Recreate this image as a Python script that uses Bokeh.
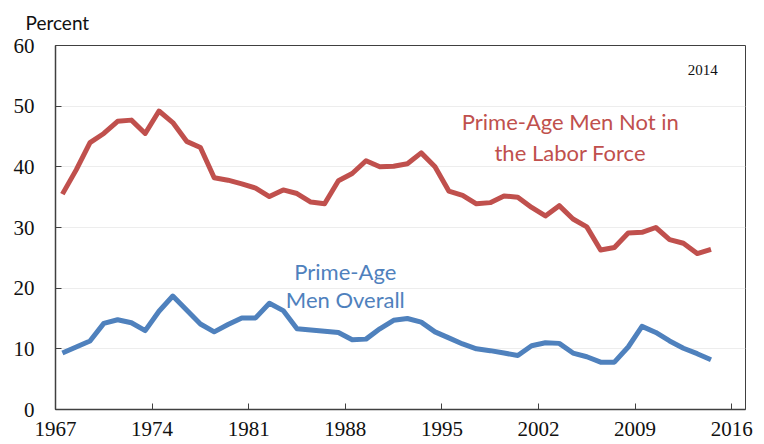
from bokeh.plotting import figure
from bokeh.models import Label, FixedTicker, Range1d
from bokeh.embed import file_html
from bokeh.resources import INLINE

years = list(range(1967, 2015))
not_in_labor_force = [35.5, 39.5, 44.0, 45.5, 47.5, 47.7, 45.5, 49.2, 47.3, 44.2,
                      43.2, 38.2, 37.8, 37.2, 36.5, 35.1, 36.2, 35.6, 34.2, 33.9,
                      37.7, 38.9, 41.0, 40.0, 40.1, 40.5, 42.3, 40.0, 36.0, 35.3,
                      33.9, 34.1, 35.2, 35.0, 33.3, 31.9, 33.6, 31.4, 30.1, 26.3,
                      26.7, 29.1, 29.2, 30.0, 28.0, 27.4, 25.7, 26.4]
men_overall = [9.3, 10.3, 11.3, 14.2, 14.8, 14.3, 13.0, 16.2, 18.7, 16.4,
               14.1, 12.8, 14.0, 15.1, 15.1, 17.5, 16.3, 13.3, 13.1, 12.9,
               12.7, 11.5, 11.6, 13.3, 14.7, 15.0, 14.4, 12.8, 11.8, 10.8,
               10.0, 9.7, 9.3, 8.9, 10.5, 11.0, 10.9, 9.3, 8.7, 7.8,
               7.8, 10.3, 13.7, 12.7, 11.3, 10.1, 9.2, 8.2]
x_ticks = [1967, 1974, 1981, 1988, 1995, 2002, 2009, 2016]
y_ticks = [0, 10, 20, 30, 40, 50, 60]

RED = "#C0504D"
BLUE = "#4F81BD"

# points sit in the middle of each year's slot
xs = [y + 0.5 for y in years]

p = figure(frame_width=690, frame_height=364, output_backend="svg",
           toolbar_location=None, x_range=Range1d(1967, 2017), y_range=Range1d(0, 60),
           min_border_left=55, min_border_right=19, min_border_top=45, min_border_bottom=35,
           title="Percent")
p.background_fill_color = "white"
p.border_fill_color = "white"
p.outline_line_color = "#404040"
p.outline_line_width = 1

p.title.align = "left"
p.title.vertical_align = "top"
p.title.offset = -30
p.title.standoff = 20
p.title.text_font = "Lato"
p.title.text_font_size = "19px"
p.title.text_font_style = "normal"
p.title.text_color = "#111111"

p.line(xs, not_in_labor_force, line_color=RED, line_width=5, line_join="round")
p.line(xs, men_overall, line_color=BLUE, line_width=5, line_join="round")

p.xgrid.visible = False
p.ygrid.grid_line_color = "#EDEDED"
p.ygrid.grid_line_width = 1

for ax in (p.xaxis[0], p.yaxis[0]):
    ax.axis_line_color = "#404040"
    ax.axis_line_width = 1.5
    ax.major_tick_line_color = "#404040"
    ax.major_tick_in = 6
    ax.major_tick_out = 0
    ax.minor_tick_line_color = None
    ax.major_label_text_font = "Liberation Serif"
    ax.major_label_text_font_size = "21px"
    ax.major_label_text_color = "#111111"

p.xaxis.ticker = FixedTicker(ticks=x_ticks)
p.yaxis.ticker = FixedTicker(ticks=y_ticks)
p.yaxis.major_label_standoff = 21
p.xaxis.major_label_standoff = 12

def add_label(x, y, text, color, size, font="Lato", align="center"):
    p.add_layout(Label(x=x, y=y, text=text, text_color=color, text_font=font,
                       text_font_size=size, text_align=align,
                       text_baseline="middle"))

add_label(2004.3, 47.4, "Prime-Age Men Not in", RED, "22px")
add_label(2004.3, 42.4, "the Labor Force", RED, "22px")
add_label(1988.0, 22.7, "Prime-Age", BLUE, "22px")
add_label(1988.0, 18.1, "Men Overall", BLUE, "22px")
add_label(2013.9, 56.0, "2014", "#111111", "15px", font="Liberation Serif")

open("out.html", "w").write(file_html(p, INLINE))
